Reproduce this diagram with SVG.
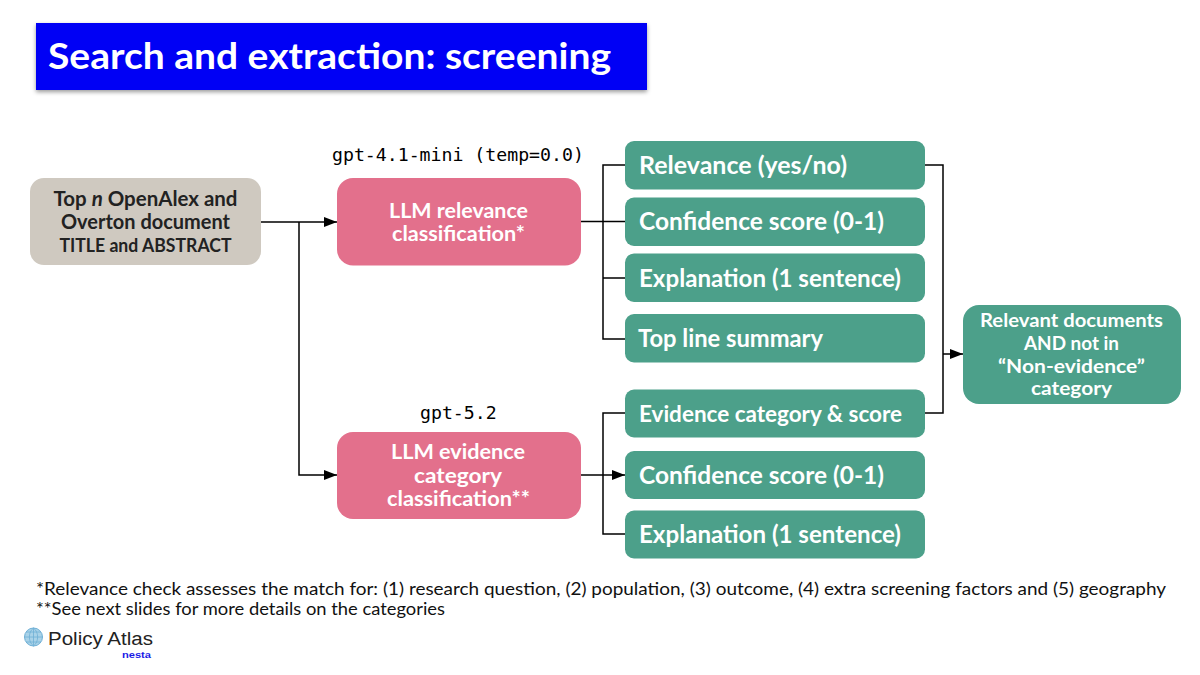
<svg xmlns="http://www.w3.org/2000/svg" width="1200" height="675" viewBox="0 0 1200 675">
<style>
text{font-family:"Lato","Liberation Sans",sans-serif;font-weight:700;fill:#fff}
.g{fill:#4ca08a}.p{fill:#e3708c}
.b{font-size:24px}.m{font-size:20px}
.mono{font-family:"DejaVu Sans Mono",monospace;font-size:18.2px;font-weight:400;fill:#000}
.foot{font-size:18px;font-weight:400;fill:#111}
.c{fill:none;stroke:#000;stroke-width:1.5}
</style>
<defs>
<marker id="a" markerWidth="13" markerHeight="10" refX="13" refY="5" orient="auto" markerUnits="userSpaceOnUse"><path d="M0 0L13 5L0 10z" fill="#000"/></marker>
<filter id="s" x="-5%" y="-20%" width="110%" height="140%"><feDropShadow dx="0" dy="2" stdDeviation="2" flood-color="#000" flood-opacity=".4"/></filter>
</defs>
<rect width="1200" height="675" fill="#fff"/>
<g id="title"><rect x="36" y="23" width="611" height="67" fill="#0000f5" filter="url(#s)"/><text x="48" y="69" font-size="36" textLength="563" lengthAdjust="spacingAndGlyphs">Search and extraction: screening</text></g>
<g id="connectors">
<path class="c" d="M261 222H337" marker-end="url(#a)"/>
<path class="c" d="M299 222V475H337" marker-end="url(#a)"/>
<path class="c" d="M581 221.500H625M625 165H603V339H625M603 278H625"/>
<path class="c" d="M581 475H625" marker-end="url(#a)"/>
<path class="c" d="M625 413H603V534H625"/>
<path class="c" d="M925 165H943V413H925"/>
<path class="c" d="M943 354H963" marker-end="url(#a)"/>
</g>
<g id="source"><rect x="30" y="178" width="231" height="87" rx="14" fill="#cfc9c0"/>
<text x="145.500" y="206" text-anchor="middle" class="m" style="fill:#222" textLength="184" lengthAdjust="spacingAndGlyphs">Top <tspan font-style="italic">n</tspan> OpenAlex and</text>
<text x="145.500" y="229" text-anchor="middle" class="m" style="fill:#222" textLength="169" lengthAdjust="spacingAndGlyphs">Overton document</text>
<text x="145.500" y="252" text-anchor="middle" class="m" style="fill:#222;font-size:18px" textLength="172" lengthAdjust="spacingAndGlyphs">TITLE and ABSTRACT</text></g>
<g id="llm-relevance"><rect class="p" x="337" y="178" width="244" height="87.500" rx="16"/>
<text x="458.500" y="218" text-anchor="middle" class="m" textLength="139" lengthAdjust="spacingAndGlyphs">LLM relevance</text>
<text x="458.500" y="241" text-anchor="middle" class="m" textLength="133" lengthAdjust="spacingAndGlyphs">classification*</text></g>
<text class="mono" x="332" y="161">gpt-4.1-mini (temp=0.0)</text>
<g id="llm-evidence"><rect class="p" x="337" y="432" width="244" height="87" rx="16"/>
<text x="458" y="459" text-anchor="middle" class="m" textLength="134" lengthAdjust="spacingAndGlyphs">LLM evidence</text>
<text x="458" y="483" text-anchor="middle" class="m" textLength="88" lengthAdjust="spacingAndGlyphs">category</text>
<text x="458.500" y="506" text-anchor="middle" class="m" textLength="143" lengthAdjust="spacingAndGlyphs">classification**</text></g>
<text class="mono" x="420" y="419">gpt-5.2</text>
<g id="o1"><rect class="g" x="625" y="141" width="300" height="48.500" rx="9"/><text class="b" x="639" y="174" textLength="208" lengthAdjust="spacingAndGlyphs">Relevance (yes/no)</text></g>
<g id="o2"><rect class="g" x="625" y="197.500" width="300" height="48.500" rx="9"/><text class="b" x="639" y="230" textLength="245" lengthAdjust="spacingAndGlyphs">Confidence score (0-1)</text></g>
<g id="o3"><rect class="g" x="625" y="253.500" width="300" height="48.500" rx="9"/><text class="b" x="639" y="287" textLength="262" lengthAdjust="spacingAndGlyphs">Explanation (1 sentence)</text></g>
<g id="o4"><rect class="g" x="625" y="314" width="300" height="48.500" rx="9"/><text class="b" x="638" y="347" textLength="185" lengthAdjust="spacingAndGlyphs">Top line summary</text></g>
<g id="o5"><rect class="g" x="625" y="389.500" width="300" height="48" rx="9"/><text class="b" style="font-size:22px" x="639" y="422" textLength="263" lengthAdjust="spacingAndGlyphs">Evidence category &amp; score</text></g>
<g id="o6"><rect class="g" x="625" y="451" width="300" height="48" rx="9"/><text class="b" x="639" y="484" textLength="245" lengthAdjust="spacingAndGlyphs">Confidence score (0-1)</text></g>
<g id="o7"><rect class="g" x="625" y="510.500" width="300" height="48" rx="9"/><text class="b" x="639" y="543" textLength="262" lengthAdjust="spacingAndGlyphs">Explanation (1 sentence)</text></g>
<g id="result"><rect class="g" x="963" y="305" width="218" height="99" rx="16"/>
<text x="1071.500" y="327" text-anchor="middle" class="m" style="font-size:19px" textLength="183" lengthAdjust="spacingAndGlyphs">Relevant documents</text>
<text x="1071.500" y="350" text-anchor="middle" class="m" style="font-size:19px" textLength="95" lengthAdjust="spacingAndGlyphs">AND not in</text>
<text x="1071.500" y="373" text-anchor="middle" class="m" style="font-size:19px" textLength="147" lengthAdjust="spacingAndGlyphs">“Non-evidence”</text>
<text x="1071.500" y="395" text-anchor="middle" class="m" style="font-size:19px" textLength="81" lengthAdjust="spacingAndGlyphs">category</text></g>
<text class="foot" x="36" y="595" textLength="1130" lengthAdjust="spacingAndGlyphs">*Relevance check assesses the match for: (1) research question, (2) population, (3) outcome, (4) extra screening factors and (5) geography</text>
<text class="foot" x="36" y="615" textLength="409" lengthAdjust="spacingAndGlyphs">**See next slides for more details on the categories</text>
<g id="logo">
<circle cx="33.500" cy="637" r="9" fill="#a9d2e8" stroke="#6fb0d6" stroke-width="1"/>
<path d="M24.500 637H42.500M26 632H41M26 642H41M33.500 628V646M33.500 628C28 632 28 642 33.500 646M33.500 628C39 632 39 642 33.500 646" fill="none" stroke="#6fb0d6" stroke-width=".8"/>
<text x="48" y="644.500" style="font-family:'Liberation Sans',sans-serif;font-weight:400;fill:#222" font-size="18" textLength="105" lengthAdjust="spacingAndGlyphs">Policy Atlas</text>
<text x="122" y="658" style="fill:#1a1ae6;font-family:'Liberation Sans',sans-serif" font-size="9.500" textLength="29" lengthAdjust="spacingAndGlyphs">nesta</text>
</g>
</svg>
